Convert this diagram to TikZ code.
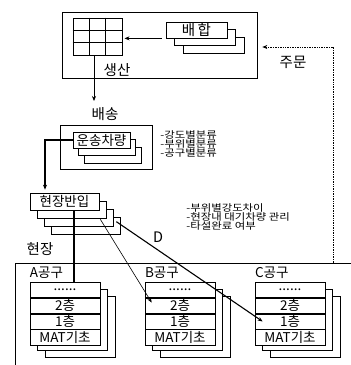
\documentclass[tikz,border=0pt]{standalone}
\usepackage{fontspec}
\setmainfont{Noto Sans CJK KR}
\newfontfamily\krwide[FakeStretch=1.2]{Noto Sans CJK KR}
\usetikzlibrary{arrows.meta, positioning, calc}

\begin{document}
\begin{tikzpicture}[
  x=1pt, y=-1pt, line width=0.7pt,
  lbl/.style={draw, fill=white, inner sep=0pt, minimum height=16pt, font=\fontsize{13.5}{13.5}\selectfont},
  shd/.style={draw, fill=white, inner sep=0pt},
  row/.style={draw, fill=white, inner sep=0pt, minimum width=70pt, minimum height=15.25pt, font=\fontsize{13.5}{13.5}\selectfont},
  txt/.style={inner sep=0pt, font=\fontsize{14.5}{14.5}\selectfont},
  note/.style={inner sep=0pt, align=left, font=\krwide\fontsize{9.5}{9}\selectfont},
  arr/.style={-{Stealth[length=5pt, width=4pt]}},
]
\useasboundingbox (0,0) rectangle (351,365);
% production
\node[draw, minimum width=195pt, minimum height=66pt] at (159.5,45) (prod) {};
\node[draw, line width=1pt, minimum width=49pt, minimum height=37pt] at (97.5,36.5) (grid) {};
\foreach \t in {0.333,0.667} {
  \draw[line width=1pt] ($(grid.north west)!\t!(grid.north east)$) -- ($(grid.south west)!\t!(grid.south east)$);
  \draw[line width=1pt] ($(grid.north west)!\t!(grid.south west)$) -- ($(grid.north east)!\t!(grid.south east)$);
}
\node[shd, minimum width=61pt, minimum height=16pt] at (213.5,45) (mix3) {};
\node[shd, minimum width=61pt, minimum height=16pt] at (205,37.5) (mix2) {};
\node[lbl, minimum width=61pt, font=\fontsize{14.5}{14.5}\selectfont] at (196.5,30) (mix) {배\,합};
\draw[arr, shorten <=4pt, shorten >=2pt] (mix.south west) -- (grid.east |- mix.south west);
\node[txt] at (117,70) (make) {생산};
\node[txt] at (293,62) (order) {주문};
% delivery
\coordinate (dv) at (94,101);
\draw[arr] (grid.south -| dv) -- (dv);
\node[txt] at (105,114) (ship) {배송};
\node[draw, minimum width=92pt, minimum height=44pt] at (106,147) (shipbox) {};
\node[shd, minimum width=57pt, minimum height=16pt] at (112.5,155) (truck3) {};
\node[shd, minimum width=57pt, minimum height=16pt] at (107,147.5) (truck2) {};
\node[lbl, minimum width=57pt] at (101.5,140) (truck) {운송차량};
\node[note, anchor=west] at (160,143.5) (sort) {-강도별분류\\-부위별분류\\-공구별분류};
% site entry
\node[shd, minimum width=69pt, minimum height=17pt] at (85.5,225.5) (site4) {};
\node[shd, minimum width=69pt, minimum height=17pt] at (78.5,217.5) (site3) {};
\node[shd, minimum width=69pt, minimum height=17pt] at (71.5,209.5) (site2) {};
\node[lbl, minimum width=69pt, minimum height=17pt] at (64.5,201.5) (site) {현장반입};
\draw[arr, line width=1.2pt] (truck.west) -| ($(site.north)+(-19.5,-3)$);
\node[note, anchor=west] at (186,217) (check) {-부위별강도차이\\-현장내 대기차량 관리\\-타설완료 여부};
\node[txt] at (158,237) (dlbl) {D};
\node[txt] at (40,249) (field) {현장};
\draw (351,263) -- (15,263) -- (15,365);
\coordinate (ordend) at (333,263);
\draw[arr, densely dotted] (ordend) |- ($(prod.east)+(5,2)$);
% work zones
\node[shd, minimum width=70pt, minimum height=61pt] at (80,326.5) (As3) {};
\node[shd, minimum width=70pt, minimum height=61pt] at (72.5,319.5) (As2) {};
\node[row] at (65,289.6) (A1) {......}; \node[row, below=0pt of A1] (A2) {2층};
\node[row, below=0pt of A2] (A3) {1층}; \node[row, below=0pt of A3] (A4) {MAT기초};
\node[shd, minimum width=70pt, minimum height=61pt] at (195,326.5) (Bs3) {};
\node[shd, minimum width=70pt, minimum height=61pt] at (187.5,319.5) (Bs2) {};
\node[row] at (180,289.6) (B1) {......}; \node[row, below=0pt of B1] (B2) {2층};
\node[row, below=0pt of B2] (B3) {1층}; \node[row, below=0pt of B3] (B4) {MAT기초};
\node[shd, minimum width=70pt, minimum height=61pt] at (305,326.5) (Cs3) {};
\node[shd, minimum width=70pt, minimum height=61pt] at (297.5,319.5) (Cs2) {};
\node[row] at (290,289.6) (C1) {......}; \node[row, below=0pt of C1] (C2) {2층};
\node[row, below=0pt of C2] (C3) {1층}; \node[row, below=0pt of C3] (C4) {MAT기초};
\node[txt, font=\fontsize{13.5}{13.5}\selectfont, above right=3pt and 0pt of A1.north west] (Albl) {A공구};
\node[txt, font=\fontsize{13.5}{13.5}\selectfont, above right=3pt and 0pt of B1.north west] (Blbl) {B공구};
\node[txt, font=\fontsize{13.5}{13.5}\selectfont, above right=3pt and 0pt of C1.north west] (Clbl) {C공구};
\draw[line width=1.3pt] ([xshift=9.5pt]site.south) -- ([xshift=9.5pt]site.south |- A1.north);
\draw[arr, line width=0.6pt] ($(site2.south east)+(-6,1)$) -- ($(B2.west)+(7,-3)$);
\draw[arr, line width=1.1pt] ($(site4.north east)+(-4,5)$) -- ($(C3.west)+(8,0)$);
\end{tikzpicture}
\end{document}
